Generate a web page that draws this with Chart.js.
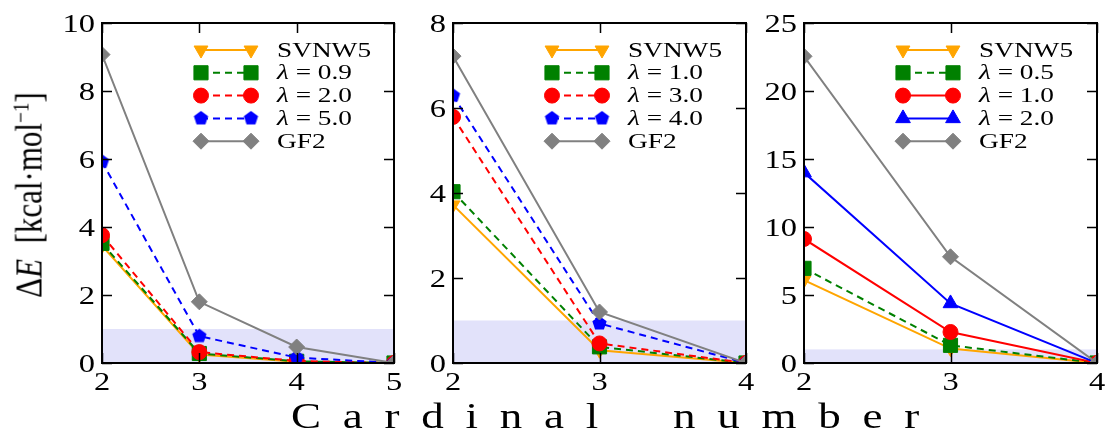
<!DOCTYPE html>
<html>
<head>
<meta charset="utf-8">
<script src="https://cdn.jsdelivr.net/npm/chart.js@4.4.0/dist/chart.umd.min.js"></script>
<style>
  body { margin: 0; background: #fff; width: 1109px; height: 433px; overflow: hidden; position: relative; font-family: "Liberation Serif", "DejaVu Serif", serif; }
  canvas { position: absolute; top: 0; }
  #ylab { position: absolute; left: 29px; top: 195px; transform: translate(-50%, -50%) rotate(-90deg) scaleY(1.25); font-size: 31px; white-space: nowrap; }
  #ylab sup { font-size: 0.62em; vertical-align: 0.55em; line-height: 0; }
  #xlab { position: absolute; left: 291px; top: 398px; font-size: 36px; line-height: 1; letter-spacing: 17.4px; word-spacing: 16px; white-space: pre; transform: scaleX(1.25); transform-origin: left center; }
</style>
</head>
<body>
<canvas id="c1" width="366" height="400" style="left:40px"></canvas>
<canvas id="c2" width="355" height="400" style="left:403px"></canvas>
<canvas id="c3" width="367" height="400" style="left:742px"></canvas>
<div id="ylab">Δ<i>E</i>&nbsp;&nbsp;[kcal·mol<sup>−1</sup>]</div>
<div id="xlab">Cardinal number</div>

<script>
// ===== Data =====
const cardinalA = [2, 3, 4, 5];
const cardinalB = [2, 3, 4];
const cardinalC = [2, 3, 4];

// panel 1
const labelsA = ["SVNW5", "λ = 0.9", "λ = 2.0", "λ = 5.0", "GF2"];
const svnw5A = [3.45, 0.25, 0.04, 0];
const lam09A = [3.52, 0.28, 0.05, 0];
const lam20A = [3.76, 0.32, 0.06, 0];
const lam50A = [5.92, 0.79, 0.16, 0];
const gf2A = [9.07, 1.80, 0.47, 0];
const yTicksA = { max: 10, step: 2 };

// panel 2
const labelsB = ["SVNW5", "λ = 1.0", "λ = 3.0", "λ = 4.0", "GF2"];
const svnw5B = [3.72, 0.30, 0];
const lam10B = [4.03, 0.38, 0];
const lam30B = [5.79, 0.46, 0];
const lam40B = [6.29, 0.93, 0];
const gf2B = [7.22, 1.20, 0];
const yTicksB = { max: 8, step: 2 };

// panel 3
const labelsC = ["SVNW5", "λ = 0.5", "λ = 1.0", "λ = 2.0", "GF2"];
const svnw5C = [6.1, 1.06, 0];
const lam05C = [6.96, 1.30, 0];
const lam10C = [9.12, 2.28, 0];
const lam20C = [14.0, 4.38, 0];
const gf2C = [22.55, 7.81, 0];
const yTicksC = { max: 25, step: 5 };

// chemical accuracy band (0 .. 1 kcal/mol)
const bandTop = 1;

// ===== Styles =====
const SERIF = '"Liberation Serif", "DejaVu Serif", serif';
const DASH = [7, 5];
const bandColor = "#e2e2fa";
const STRETCH = 1.25; // the source figure is stretched sideways

function makePentagon(color, r) {
    const c = document.createElement("canvas");
    const s = Math.ceil(r * 2 + 2);
    c.width = s; c.height = s;
    const g = c.getContext("2d");
    g.beginPath();
    for (let i = 0; i < 5; i++) {
        const a = -Math.PI / 2 + i * 2 * Math.PI / 5;
        const px = s / 2 + r * Math.cos(a), py = s / 2 + r * Math.sin(a);
        if (i === 0) g.moveTo(px, py); else g.lineTo(px, py);
    }
    g.closePath();
    g.fillStyle = color;
    g.fill();
    return c;
}
const pentagon = makePentagon("#0000FF", 7.5);

const sOrange = { color: "#FFA500", dash: [], point: "triangle", rot: 180, r: 8 };
const sGreenD = { color: "#008000", dash: DASH, point: "rect", rot: 0, r: 10 };
const sRedD = { color: "#FF0000", dash: DASH, point: "circle", rot: 0, r: 7.5 };
const sRed = { color: "#FF0000", dash: [], point: "circle", rot: 0, r: 7.5 };
const sBlueP = { color: "#0000FF", dash: DASH, point: pentagon, rot: 0, r: 8 };
const sBlueT = { color: "#0000FF", dash: [], point: "triangle", rot: 0, r: 8.5 };
const sGray = { color: "#808080", dash: [], point: "rectRot", rot: 0, r: 8 };

function buildDatasets(xs, series, labels, styles) {
    return series.map(function(vals, i) {
        const st = styles[i];
        return {
            label: labels[i],
            data: vals.map(function(v, j) { return { x: xs[j], y: v }; }),
            borderColor: st.color,
            backgroundColor: st.color,
            borderWidth: 2,
            borderDash: st.dash,
            pointStyle: st.point,
            pointRotation: st.rot,
            pointRadius: st.r,
            pointBorderWidth: 1,
            pointBorderColor: st.color,
            pointBackgroundColor: st.color,
            tension: 0,
            clip: 0,
            order: series.length - i,
            _st: st
        };
    });
}

function drawMarker(ctx, st, x, y) {
    ctx.save();
    ctx.fillStyle = st.color;
    ctx.strokeStyle = st.color;
    ctx.lineWidth = 1;
    ctx.setLineDash([]);
    if (typeof st.point !== "string") {
        ctx.drawImage(st.point, x - st.point.width / 2, y - st.point.height / 2);
    } else if (Chart.helpers && Chart.helpers.drawPoint) {
        Chart.helpers.drawPoint(ctx, { pointStyle: st.point, rotation: st.rot, radius: st.r, borderWidth: 1 }, x, y);
    }
    ctx.restore();
}

// text stretched sideways; align: "left" | "center" | "right"
function stretchedText(ctx, text, x, y, font, align) {
    ctx.save();
    ctx.font = font;
    const w = ctx.measureText(text).width * STRETCH;
    let left = x;
    if (align === "center") left = x - w / 2;
    if (align === "right") left = x - w;
    ctx.translate(left, y);
    ctx.scale(STRETCH, 1);
    ctx.textAlign = "left";
    ctx.fillStyle = "#000";
    ctx.fillText(text, 0, 0);
    ctx.restore();
}

function drawLabel(ctx, text, x, y) {
    ctx.save();
    ctx.translate(x, y);
    ctx.scale(1.3, 1);
    ctx.fillStyle = "#000";
    ctx.textBaseline = "middle";
    let cx = 0;
    if (text.charAt(0) === "λ") {
        ctx.font = "italic 21px " + SERIF;
        ctx.fillText("λ", 0, 0);
        cx = ctx.measureText("λ").width;
        text = text.slice(1);
    }
    ctx.font = "21px " + SERIF;
    ctx.fillText(text, cx, 0);
    ctx.restore();
}

// ===== Frame / band / ticks / legend plugin =====
const framePlugin = {
    id: "frame",
    beforeDatasetsDraw(chart) {
        const { ctx, chartArea: a, scales: { y } } = chart;
        const y0 = y.getPixelForValue(0), y1 = y.getPixelForValue(bandTop);
        ctx.save();
        ctx.fillStyle = bandColor;
        ctx.fillRect(a.left, y1, a.right - a.left, y0 - y1);
        ctx.restore();
    },
    afterDraw(chart) {
        const { ctx, chartArea: a, scales: { x, y } } = chart;
        ctx.save();
        ctx.strokeStyle = "#000";
        ctx.lineWidth = 1.5;
        const tl = 10;
        ctx.beginPath();
        y.ticks.forEach(function(t) {
            const py = Math.round(y.getPixelForValue(t.value)) + 0.5;
            ctx.moveTo(a.left, py); ctx.lineTo(a.left + tl, py);
            ctx.moveTo(a.right, py); ctx.lineTo(a.right - tl, py);
        });
        x.ticks.forEach(function(t) {
            const px = Math.round(x.getPixelForValue(t.value)) + 0.5;
            ctx.moveTo(px, a.top); ctx.lineTo(px, a.top + tl);
            ctx.moveTo(px, a.bottom); ctx.lineTo(px, a.bottom - tl);
        });
        ctx.stroke();
        ctx.lineWidth = 2;
        ctx.strokeRect(a.left, a.top, a.right - a.left, a.bottom - a.top);

        // tick labels
        const tickFont = "26px " + SERIF;
        ctx.textBaseline = "alphabetic";
        y.ticks.forEach(function(t) {
            stretchedText(ctx, String(t.value), a.left - 7, y.getPixelForValue(t.value) + 8.5, tickFont, "right");
        });
        x.ticks.forEach(function(t) {
            stretchedText(ctx, String(t.value), x.getPixelForValue(t.value), a.bottom + 27, tickFont, "center");
        });

        // legend
        chart.data.datasets.forEach(function(ds, i) {
            const st = ds._st;
            const ry = a.top + 27 + i * 22.8;
            const x0 = a.left + 99, x1 = a.left + 149;
            ctx.save();
            ctx.strokeStyle = st.color;
            ctx.lineWidth = 2;
            ctx.setLineDash(st.dash);
            ctx.beginPath();
            ctx.moveTo(x0, ry); ctx.lineTo(x1, ry);
            ctx.stroke();
            ctx.restore();
            drawMarker(ctx, st, x0, ry);
            drawMarker(ctx, st, x1, ry);
            drawLabel(ctx, ds.label, a.left + 175, ry + 1);
        });
        ctx.restore();
    }
};

function makeChart(id, xs, series, labels, styles, yt, yWidth) {
    const ctx = document.getElementById(id).getContext("2d");
    return new Chart(ctx, {
        type: "line",
        data: { datasets: buildDatasets(xs, series, labels, styles) },
        options: {
            responsive: false,
            animation: false,
            devicePixelRatio: 1,
            layout: { padding: { top: 23, right: 12, left: 0, bottom: 0 } },
            plugins: { legend: { display: false }, tooltip: { enabled: false } },
            scales: {
                x: {
                    type: "linear",
                    min: xs[0],
                    max: xs[xs.length - 1],
                    grid: { display: false, drawTicks: false },
                    border: { display: false },
                    ticks: { display: false, stepSize: 1 },
                    afterFit: function(s) { s.height = 37; }
                },
                y: {
                    min: 0,
                    max: yt.max,
                    grid: { display: false, drawTicks: false },
                    border: { display: false },
                    ticks: { display: false, stepSize: yt.step },
                    afterFit: function(s) { s.width = yWidth; }
                }
            }
        },
        plugins: [framePlugin]
    });
}

makeChart("c1", cardinalA, [svnw5A, lam09A, lam20A, lam50A, gf2A], labelsA,
    [sOrange, sGreenD, sRedD, sBlueP, sGray], yTicksA, 62);
makeChart("c2", cardinalB, [svnw5B, lam10B, lam30B, lam40B, gf2B], labelsB,
    [sOrange, sGreenD, sRedD, sBlueP, sGray], yTicksB, 50);
makeChart("c3", cardinalC, [svnw5C, lam05C, lam10C, lam20C, gf2C], labelsC,
    [sOrange, sGreenD, sRed, sBlueT, sGray], yTicksC, 62);
</script>
</body>
</html>
